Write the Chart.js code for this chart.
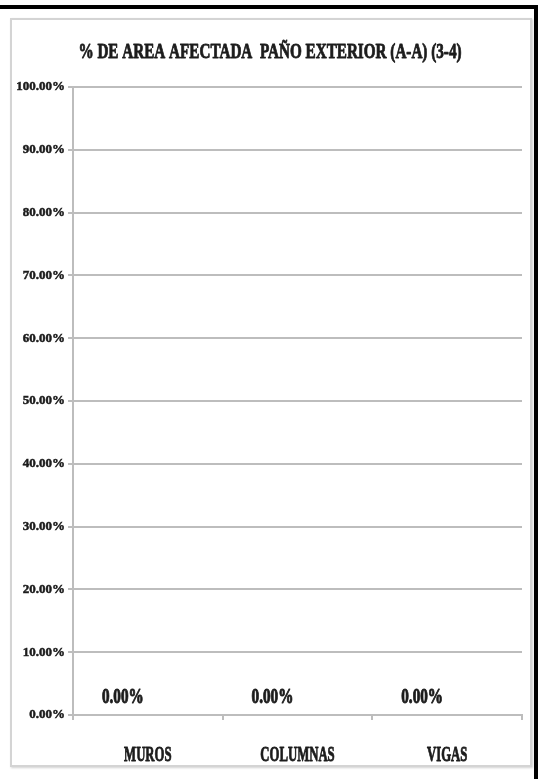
<!DOCTYPE html>
<html>
<head>
<meta charset="utf-8">
<script src="https://cdn.jsdelivr.net/npm/chart.js@4"></script>
<style>
  html, body { margin: 0; padding: 0; background: #fff; }
  body { width: 542px; height: 779px; position: relative; overflow: hidden; }
  #edge {
    position: absolute; left: -10px; top: 5px; width: 544px; height: 800px;
    border-top: 4px solid #000; border-right: 4px solid #000;
  }
  #frame {
    position: absolute; left: 10px; top: 18px; width: 518px; height: 745px;
    border: 2px solid #d4d4d4; box-shadow: 1px 1px 2px rgba(0, 0, 0, 0.18);
  }
  #chart { position: absolute; left: 0; top: 0; }
</style>
</head>
<body>
<div id="edge"></div>
<div id="frame"></div>
<canvas id="chart" width="542" height="779"></canvas>
<script>
const chartTitle = '% DE AREA AFECTADA  PAÑO EXTERIOR (A-A) (3-4)';
const categories = ['MUROS', 'COLUMNAS', 'VIGAS'];
const areaPct = [0, 0, 0];
const yTicks = [0, 10, 20, 30, 40, 50, 60, 70, 80, 90, 100];

const textColor = '#1c1c1c';
const gridColor = '#bdbdbd';

function fmtPct(v) {
  return v.toFixed(2) + '%';
}

// heavy Times-style text squeezed horizontally
function drawCondensed(ctx, text, x, y, size, sx) {
  ctx.save();
  ctx.translate(x, y);
  ctx.scale(sx, 1);
  ctx.font = 'bold ' + size + 'px "Liberation Serif", "Times New Roman", serif';
  ctx.fillStyle = textColor;
  ctx.strokeStyle = textColor;
  ctx.lineWidth = 0.9;
  ctx.lineJoin = 'round';
  ctx.textAlign = 'center';
  ctx.textBaseline = 'alphabetic';
  ctx.fillText(text, 0, 0);
  ctx.strokeText(text, 0, 0);
  ctx.restore();
}

const condensedText = {
  id: 'condensedText',
  afterDraw(chart) {
    const ctx = chart.ctx;
    const xScale = chart.scales.x;
    drawCondensed(ctx, chartTitle, 270, 58, 22, 0.69);
    categories.forEach((c, i) => {
      drawCondensed(ctx, c, xScale.getPixelForValue(i), 761, 22, 0.58);
    });
    chart.getDatasetMeta(0).data.forEach((bar, i) => {
      drawCondensed(ctx, fmtPct(areaPct[i]), bar.x - 25, bar.y - 12, 20, 0.76);
    });
  },
};

new Chart(document.getElementById('chart').getContext('2d'), {
  type: 'bar',
  data: {
    labels: categories,
    datasets: [{
      label: '% de área afectada',
      data: areaPct,
      backgroundColor: '#4f81bd',
      borderWidth: 0,
    }],
  },
  options: {
    responsive: false,
    animation: false,
    layout: { padding: { top: 87, left: 0, right: 20, bottom: 0 } },
    plugins: {
      legend: { display: false },
      tooltip: { enabled: false },
      title: { display: false },
    },
    scales: {
      x: {
        afterFit: (scale) => { scale.height = 64; },
        grid: { offset: true, drawOnChartArea: false, drawTicks: true, tickLength: 5, color: gridColor, lineWidth: 2 },
        border: { color: gridColor, width: 2 },
        ticks: { display: false },
      },
      y: {
        min: 0,
        max: 100,
        afterFit: (scale) => { scale.width = 73; },
        afterBuildTicks: (scale) => { scale.ticks = yTicks.map((v) => ({ value: v })); },
        grid: { color: gridColor, lineWidth: 2, tickLength: 5, drawTicks: true },
        border: { color: gridColor, width: 2 },
        ticks: {
          padding: 3,
          color: textColor,
          textStrokeColor: textColor,
          textStrokeWidth: 0.5,
          font: { family: '"Liberation Serif", "Times New Roman", serif', size: 13, weight: 'bold' },
          callback: (v) => fmtPct(v),
        },
      },
    },
  },
  plugins: [condensedText],
});
</script>
</body>
</html>
